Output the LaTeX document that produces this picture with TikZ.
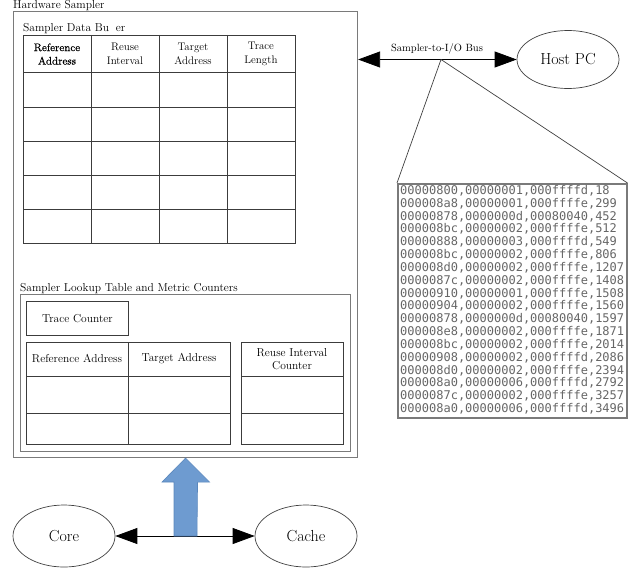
\documentclass[tikz,border=0pt]{standalone}
\usepackage{fontspec}
\newfontfamily\dumpfont{DejaVu Sans Mono}
\newfontfamily\heavyfont[FakeBold=0.6]{Latin Modern Roman}
\usetikzlibrary{arrows.meta,shapes.geometric,calc}
\definecolor{framegray}{HTML}{7A7A7A}
\definecolor{gridgray}{HTML}{3C3C3C}
\definecolor{dumpgray}{HTML}{666666}
\definecolor{arrowblue}{HTML}{6E9BD0}
\definecolor{arrowedge}{HTML}{5A87BC}
\begin{document}
\begin{tikzpicture}[x=1pt,y=-1pt,
  frame/.style={draw=framegray,line width=1.1pt,inner sep=0pt,anchor=north west},
  cellbox/.style={draw=gridgray,line width=0.9pt,inner sep=0pt,anchor=north west},
  lbl/.style={font=\fontsize{11.5}{13}\selectfont,inner sep=0pt},
  head/.style={font=\fontsize{11}{13.5}\selectfont,align=center,inner sep=0pt},
  oval/.style={draw=black!75,ellipse,line width=0.7pt,minimum width=102pt,minimum height=62pt,inner sep=0pt,font=\fontsize{16}{18}\selectfont},
  mono/.style={font=\dumpfont\fontsize{12}{13}\selectfont,text=dumpgray,inner sep=0pt},
  bothtri/.style={line width=0.8pt,{Triangle[length=22pt,width=16pt]}-{Triangle[length=22pt,width=16pt]}}
]
\useasboundingbox (0,0) rectangle (636,586);

% Hardware sampler
\node[frame,minimum width=344pt,minimum height=446pt] (hw) at (13,11) {};
\node[lbl,anchor=base west] (hwlbl) at (13,8.5) {Hardware Sampler};

% Sampler data buffer
\node[lbl,anchor=base west] (sdblbl) at (23,31) {Sampler Data Bu\phantom{ff}er};
\node[cellbox,minimum width=272pt,minimum height=208pt] (sdb) at (23,35) {};
\foreach \yy in {72,107,141,175,209} \draw[draw=gridgray,line width=0.9pt] (23,\yy) -- (295,\yy);
\foreach \xx in {91,159,227} \draw[draw=gridgray,line width=0.9pt] (\xx,35) -- (\xx,243);
\node[head] (h1) at (57,54) {{\heavyfont Reference}\\{\heavyfont Address}};
\node[head] (h2) at (125,54) {Reuse\\Interval};
\node[head] (h3) at (193,54) {Target\\Address};
\node[head] (h4) at (261,54) {Trace\\Length};

% Lookup table and metric counters
\node[lbl,anchor=base west] (ltlbl) at (20,291) {Sampler Lookup Table and Metric Counters};
\node[frame,minimum width=330pt,minimum height=157pt] (lt) at (20,294) {};
\node[cellbox,minimum width=102pt,minimum height=34pt] (tc) at (26,301) {};
\node[lbl] (tctext) at (tc.center) {Trace Counter};
\node[cellbox,minimum width=204pt,minimum height=102pt] (lta) at (26,342) {};
\draw[draw=gridgray,line width=0.9pt] (26,376) -- (230,376) (26,413) -- (230,413) (128,342) -- (128,444);
\node[lbl] (ra) at (77,359) {Reference Address};
\node[lbl] (ta) at (179,359) {Target Address};
\node[cellbox,minimum width=102pt,minimum height=102pt] (ric) at (241,342) {};
\draw[draw=gridgray,line width=0.9pt] (241,376) -- (343,376) (241,413) -- (343,413);
\node[head,font=\fontsize{11.5}{13.5}\selectfont] (rictext) at (292,359) {Reuse Interval\\Counter};

% Core and cache
\node[oval] (core) at (64,536) {Core};
\node[oval] (cache) at (306,536) {Cache};
\draw[bothtri] (core.east) -- (cache.west);
\coordinate (mid) at ($(core.east)!0.5!(cache.west)$);
\draw[fill=arrowblue,draw=arrowedge,line width=0.6pt]
  (hw.south) -- ++(24,24) -- ++(-12,0) -- ($(mid)+(12,0)$) -- ($(mid)+(-11,0)$)
  -- ++(0,-54) -- ++(-12,0) -- cycle;

% Host PC and bus
\node[oval,minimum height=58pt] (host) at (568,59.5) {Host PC};
\draw[bothtri] (hw.east |- host.west) -- (host.west);
\node[lbl,font=\fontsize{10.5}{12}\selectfont,anchor=base] (buslbl) at (437,52) {Sampler-to-I/O Bus};
\coordinate (tap) at (441,59.5);

% Trace dump
\node[draw=framegray,line width=1.5pt,minimum width=229pt,minimum height=234pt,inner sep=0pt,anchor=north west] (dump) at (397,183) {};
\draw[draw=black!75,line width=0.7pt] (dump.north west) -- (tap) -- (dump.north east);
\foreach \t [count=\i from 0] in {
  {00000800,00000001,000ffffd,18},
  {000008a8,00000001,000ffffe,299},
  {00000878,0000000d,00080040,452},
  {000008bc,00000002,000ffffe,512},
  {00000888,00000003,000ffffd,549},
  {000008bc,00000002,000ffffe,806},
  {000008d0,00000002,000ffffe,1207},
  {0000087c,00000002,000ffffe,1408},
  {00000910,00000001,000ffffe,1508},
  {00000904,00000002,000ffffe,1560},
  {00000878,0000000d,00080040,1597},
  {000008e8,00000002,000ffffe,1871},
  {000008bc,00000002,000ffffe,2014},
  {00000908,00000002,000ffffd,2086},
  {000008d0,00000002,000ffffe,2394},
  {000008a0,00000006,000ffffd,2792},
  {0000087c,00000002,000ffffe,3257},
  {000008a0,00000006,000ffffd,3496}}
  \node[mono,anchor=base west] (d\i) at (400,{194.4+12.83*\i}) {\t};
\end{tikzpicture}
\end{document}
